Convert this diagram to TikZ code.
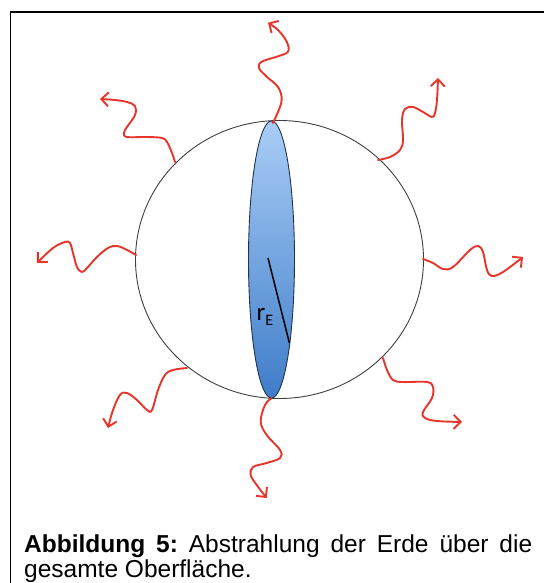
\documentclass[tikz,border=0pt]{standalone}
\usepackage{fontspec}
\setmainfont{Liberation Sans}
\newfontfamily\calib{Carlito}
\usetikzlibrary{arrows.meta}
\definecolor{wavered}{HTML}{E8352B}
\definecolor{bluetop}{HTML}{A9CDF6}
\definecolor{bluebot}{HTML}{3F7DC9}
\definecolor{blueedge}{HTML}{22344C}
\tikzset{
  wave/.style={draw=wavered, line width=1.9pt, line cap=round, line join=round,
    -{Straight Barb[length=7pt,width=14pt]}},
  earthrim/.style={draw=black!75, line width=0.9pt},
  framebar/.style={line width=1.3pt, draw=black}
}
\begin{document}
\frenchspacing
\begin{tikzpicture}[x=1pt,y=-1pt]
\useasboundingbox (0,0) rectangle (543,583);
\fill[white] (0,0) rectangle (543,583);
% frame
\draw[framebar] (10.5,590) -- (10.5,12) -- (550,12);
% earth circle
\coordinate (c) at (279.5,259.5);
\draw[earthrim] (c) ellipse [x radius=144, y radius=139];
% blue cross-section
\coordinate (e) at (271.5,259.5);
\shade[top color=bluetop, bottom color=bluebot, draw=blueedge, line width=0.9pt]
  (e) ellipse [x radius=23, y radius=138.5];
% radius
\coordinate (r0) at (268,258);
\coordinate (r1) at (289.4,343);
\draw[line width=1.5pt, black] (r0) -- (r1);
\node[font=\calib\fontsize{25}{25}\selectfont, inner sep=0] (rlabel) at (265,317)
  {r\raisebox{-5pt}{\fontsize{16}{16}\selectfont E}};
% waves
\draw[wave] plot[smooth, tension=0.6] coordinates {(272.7,123) (276.7,115) (281.7,100) (278,87) (266.7,76.7) (259,68) (261.7,61.7) (276.7,56.7) (288,51.7) (286.7,41.7) (278,30) (268,22.7)};
\draw[wave] plot[smooth, tension=0.6] coordinates {(378,160) (390,157) (400,150) (403,140) (402,120) (405,109) (413,107) (423,112) (432,117) (435,113) (437,100) (438,78)};
\draw[wave] plot[smooth, tension=0.6] coordinates {(423,259) (433,263) (443,269) (453,267) (470,250) (478,246) (483,252) (487,270) (492,276) (503,272) (523,257)};
\draw[wave] plot[smooth, tension=0.6] coordinates {(383,358) (387,370) (393,380) (403,382) (427,382) (433,387) (432,398) (423,412) (425,418) (437,421) (462,422)};
\draw[wave] plot[smooth, tension=0.6] coordinates {(271.7,398) (265,405) (260.7,421.7) (266.7,435) (280,450) (280,458) (266.7,463) (253,467) (250.7,475) (256.7,485) (266.7,498)};
\draw[wave] plot[smooth, tension=0.6] coordinates {(187,368) (173,370) (165,375) (158,390) (152,410) (147,410) (137,400) (127,393) (120,395) (113,410) (108,428)};
\draw[wave] plot[smooth, tension=0.6] coordinates {(136,255) (127,250) (117,246) (108,248) (97,257) (87,268) (82,272) (77,267) (73,253) (70,243) (65,242) (53,248) (37,263)};
\draw[wave] plot[smooth, tension=0.6] coordinates {(175,162) (172,153) (167,142) (162,138) (147,137) (127,137) (124,133) (127,127) (135,115) (135,106) (127,102) (115,100) (100,99)};
% caption
\node[anchor=north west, text width=508pt, align=justify, inner sep=0pt,
  font=\fontsize{24.5}{25}\selectfont] (cap) at (24,535)
  {\textbf{Abbildung 5:} Abstrahlung der Erde über die gesamte Oberfläche.};
\end{tikzpicture}
\end{document}
